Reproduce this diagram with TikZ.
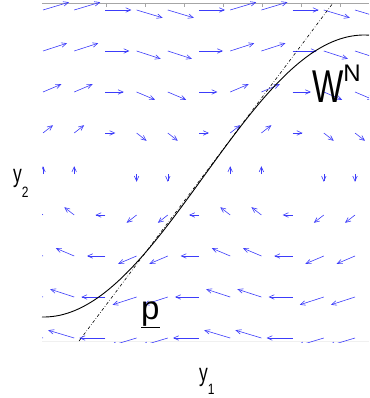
\documentclass[tikz,border=0pt]{standalone}
\usepackage{fontspec}
\setmainfont{Liberation Sans}
\usepackage{xcolor}
\usepackage{tikz}
\usetikzlibrary{arrows.meta, calc}
\definecolor{quiverblue}{RGB}{60,60,250}
\newcommand{\sqz}[3]{\scalebox{#1}[1]{\fontsize{#2}{#2}\selectfont #3}}
\tikzset{
  vec/.style={quiverblue, line width=0.6pt, -{Straight Barb[length=5pt, width=4.5pt]}},
  frame/.style={draw=gray!70, line width=0.8pt},
  manifold/.style={black, line width=0.9pt},
  tangent/.style={black, line width=0.6pt, dash dot},
  lab/.style={inner sep=0pt, anchor=base west}
}

\begin{document}
\begin{tikzpicture}[x=1pt, y=-1pt]
\useasboundingbox (0,0) rectangle (369,398);
% axes box
\draw[draw=gray!12, line width=0.6pt] (42,341) -- (369,341);
\draw[frame] (42,3) -- (369,3);
\foreach \t in {106,145,...,340}
  \draw[frame, line width=0.5pt] (\t,3) -- (\t,7);

% vector field
\begin{scope}
\clip (42,2) rectangle (369,342);
\foreach \i in {0,...,10} {
  \foreach \j in {0,...,8} {
    \pgfmathsetmacro\xx{43+31.2*\i}
    \pgfmathsetmacro\yy{10+41*\j}
    \pgfmathsetmacro\uu{26*cos(22.5*\j)}
    \pgfmathsetmacro\vv{9*sin(60*(\i-2))}
    \pgfmathsetmacro\vlen{veclen(\uu,\vv)}
    \ifdim\vlen pt>1pt
      \draw[vec] (\xx,\yy) -- ++(\uu,\vv);
    \fi
  }
}
\end{scope}

% manifold and its tangent
\draw[manifold] plot[domain=42:369, samples=90, smooth] (\x, {176-141*sin(deg((\x-204)/102))});
\coordinate (ta) at (79,341);
\coordinate (tb) at (333,3);
\draw[tangent] (ta) -- (tb);

% labels
\node[lab] (ytwo) at (13,182)
  {\sqz{0.7}{25}{y}\raisebox{-15pt}{\sqz{0.8}{15}{2}}};
\node[lab] (yone) at (199,381)
  {\sqz{0.7}{25}{y}\raisebox{-13pt}{\sqz{0.8}{15}{1}}};
\node[lab] (wn) at (312,103)
  {\sqz{0.72}{46}{W}\raisebox{21pt}{\fontsize{24}{24}\selectfont N}};
\node[lab, font=\fontsize{33}{33}\selectfont] (pp) at (141,319) {\underline{p}};
\end{tikzpicture}
\end{document}
